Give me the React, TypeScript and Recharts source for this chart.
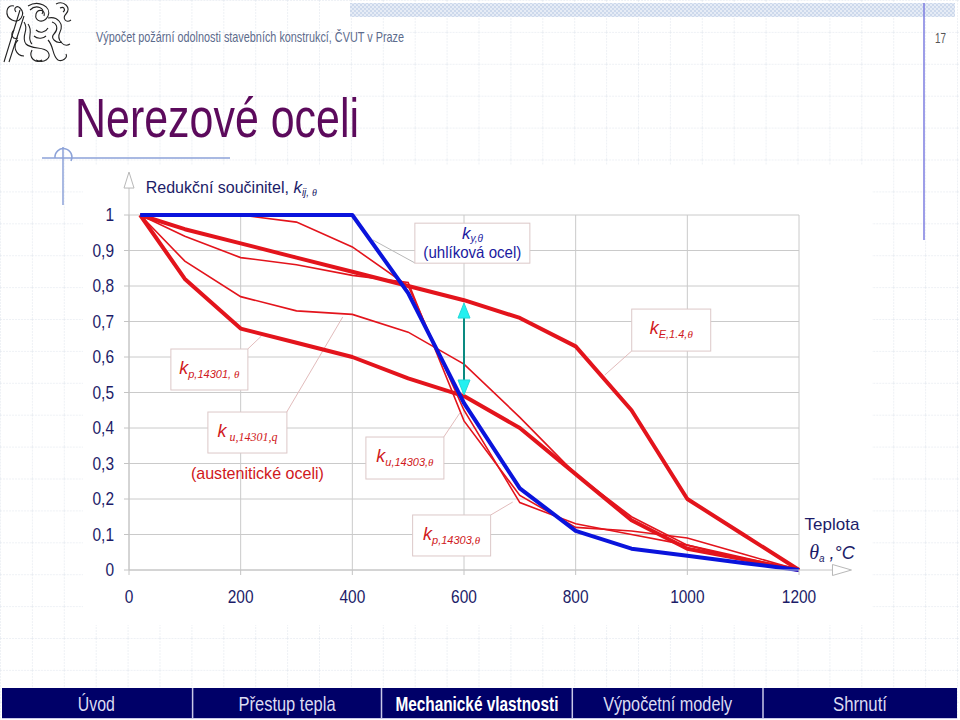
import React from 'react'
import {
  LineChart,
  Line,
  XAxis,
  YAxis,
  CartesianGrid,
  ReferenceLine,
  ReferenceDot,
} from 'recharts'

// temperatures (°C) and reduction factors
const temps = [20, 100, 200, 300, 400, 500, 600, 700, 800, 900, 1000, 1100, 1200]
const kyCarbon = [1, 1, 1, 1, 1, 0.78, 0.47, 0.23, 0.11, 0.06, 0.04, 0.02, 0]
const kE = [1, 0.96, 0.92, 0.88, 0.84, 0.8, 0.76, 0.71, 0.63, 0.45, 0.2, 0.1, 0]
const kp14301 = [1, 0.82, 0.68, 0.64, 0.6, 0.54, 0.49, 0.4, 0.27, 0.14, 0.06, 0.03, 0]
const ku14301 = [1, 0.87, 0.77, 0.73, 0.72, 0.67, 0.58, 0.43, 0.27, 0.15, 0.07, 0.03, 0]
const kp14303 = [1, 1, 1, 0.98, 0.91, 0.8, 0.45, 0.19, 0.13, 0.1, 0.07, 0.035, 0]
const ku14303 = [1, 0.94, 0.88, 0.86, 0.83, 0.81, 0.42, 0.21, 0.12, 0.11, 0.09, 0.045, 0]

const xTicks = [0, 200, 400, 600, 800, 1000, 1200]
const yTicks = [0, 0.1, 0.2, 0.3, 0.4, 0.5, 0.6, 0.7, 0.8, 0.9, 1]

const navItems = ['Úvod', 'Přestup tepla', 'Mechanické vlastnosti', 'Výpočetní modely', 'Shrnutí']

const rows = temps.map((t, i) => ({
  t,
  kyCarbon: kyCarbon[i],
  kE: kE[i],
  kp14301: kp14301[i],
  ku14301: ku14301[i],
  kp14303: kp14303[i],
  ku14303: ku14303[i],
}))

const RED = '#e3141c'
const BLUE = '#0a14dc'
const NAVY = '#1c1c68'
const FONT = 'Liberation Sans, Arial, sans-serif'
const SERIF = 'Liberation Serif, Times New Roman, serif'

const fmtY = (v: number) => (v === 0 ? '0' : v === 1 ? '1' : v.toFixed(1).replace('.', ','))

// slide text is slightly condensed, so ticks are drawn a bit narrower than tall
const XTick = (p: any) => (
  <text
    transform={`translate(${p.x},${p.y + 13}) scale(0.86,1)`}
    textAnchor="middle"
    fontFamily={FONT}
    fontSize={18}
    fill={NAVY}
  >
    {p.payload.value}
  </text>
)

const YTick = (p: any) => (
  <text
    transform={`translate(${p.x},${p.y + 6}) scale(0.86,1)`}
    textAnchor="end"
    fontFamily={FONT}
    fontSize={18}
    fill={NAVY}
  >
    {fmtY(p.payload.value)}
  </text>
)

// white box with label, anchored at its top-left corner
const box = (w: number, h: number, content: (x: number, y: number) => React.ReactNode) =>
  (p: any) => (
    <g>
      <rect x={p.cx} y={p.cy} width={w} height={h} fill="#fff" stroke="#dcc8c8" />
      {content(p.cx + w / 2, p.cy)}
    </g>
  )

const redLabel = (main: string, sub: string) => (x: number, y: number) => (
  <text x={x} y={y + 25} textAnchor="middle" fill="#d01820" fontStyle="italic" fontFamily={FONT}>
    <tspan fontSize={18}>{main}</tspan>
    <tspan fontSize={11} dy={4}>{sub}</tspan>
    <tspan fontSize={11} fontFamily={SERIF}>θ</tspan>
  </text>
)

const callouts = [
  { t: 512, v: 0.977, w: 115, h: 40, draw: (x: number, y: number) => (
      <g fontFamily={FONT} fill="#1a1aa0">
        <text x={x} y={y + 16} textAnchor="middle" fontStyle="italic">
          <tspan fontSize={17}>k</tspan>
          <tspan fontSize={10} dy={3}>y,θ</tspan>
        </text>
        <text x={x} y={y + 35} textAnchor="middle" fontSize={16.5} textLength={98} lengthAdjust="spacingAndGlyphs">(uhlíková ocel)</text>
      </g>
    ) },
  { t: 75, v: 0.6225, w: 77, h: 41, draw: redLabel('k', 'p,14301, ') },
  { t: 141.3, v: 0.445, w: 79, h: 41, draw: (x: number, y: number) => (
      <text x={x} y={y + 25} textAnchor="middle" fill="#d01820" fontStyle="italic">
        <tspan fontSize={18} fontFamily={FONT}>k</tspan>
        <tspan fontSize={12} dy={4} fontFamily={SERIF}> u,14301,q</tspan>
      </text>
    ) },
  { t: 424.3, v: 0.3746, w: 78, h: 42, draw: redLabel('k', 'u,14303,') },
  { t: 508, v: 0.155, w: 78, h: 41, draw: redLabel('k', 'p,14303,') },
  { t: 900.4, v: 0.735, w: 79, h: 42, draw: redLabel('k', 'E,1.4,') },
]

const leaders = [
  { a: { x: 436.5, y: 0.93 }, b: { x: 512, y: 0.865 }, c: '#b8b8b8' },
  { a: { x: 212.7, y: 0.6225 }, b: { x: 237.2, y: 0.659 }, c: '#e2bcbc' },
  { a: { x: 282.5, y: 0.445 }, b: { x: 382.8, y: 0.7127 }, c: '#e2bcbc' },
  { a: { x: 563.7, y: 0.3746 }, b: { x: 592.4, y: 0.442 }, c: '#e2bcbc' },
  { a: { x: 647.9, y: 0.155 }, b: { x: 687.3, y: 0.1915 }, c: '#e2bcbc' },
  { a: { x: 900.4, y: 0.617 }, b: { x: 852, y: 0.549 }, c: '#e2bcbc' },
]

const triangle = (dir: 'up' | 'down' | 'right', fill: string, stroke: string, len: number, half: number) =>
  (p: any) => {
    const { cx, cy } = p
    let pts = ''
    if (dir === 'up') pts = `${cx},${cy} ${cx - half},${cy + len} ${cx + half},${cy + len}`
    if (dir === 'down') pts = `${cx},${cy} ${cx - half},${cy - len} ${cx + half},${cy - len}`
    if (dir === 'right') pts = `${cx},${cy} ${cx - len},${cy - half} ${cx - len},${cy + half}`
    return <polygon points={pts} fill={fill} stroke={stroke} strokeWidth={1} />
  }

const Background = () => {
  const cuts = [0, 192.6, 381.5, 572.3, 763, 957]
  const widths = [37, 97, 163, 129, 54]
  return (
    <svg width={960} height={720} style={{ position: 'absolute', left: 0, top: 0 }}>
      <defs>
        <pattern id="bg" width={31.9} height={31.9} patternUnits="userSpaceOnUse">
          <path d="M0 0 H31.9 M0 0 V31.9" stroke="#dde3ec" strokeWidth={1} strokeDasharray="2 1" fill="none" />
        </pattern>
        <pattern id="chk" width={4} height={4} patternUnits="userSpaceOnUse">
          <rect width={4} height={4} fill="#e6ecf6" />
          <rect width={2} height={2} fill="#cdd9ec" />
          <rect x={2} y={2} width={2} height={2} fill="#cdd9ec" />
        </pattern>
      </defs>
      <rect width={960} height={720} fill="#fff" />
      <rect width={960} height={720} fill="url(#bg)" />
      <rect x={350} y={3} width={605} height={14} fill="url(#chk)" />
      <line x1={924} y1={3} x2={924} y2={240} stroke="#7c7ce0" strokeWidth={1.5} />
      <rect x={83} y={165} width={789} height={460} fill="#fff" />

      {/* logo sketch */}
      <g stroke="#222" strokeWidth={1.1} fill="none">
        <path d="M4 62 L20 10 M9 62 L24 16" />
        <path d="M14 6 C6 4 4 16 12 20 C20 24 26 14 20 8 C17 5 13 8 16 12" />
        <path d="M28 6 C38 0 52 6 48 16 C44 24 34 22 36 14 C38 8 46 10 44 16" />
        <path d="M30 10 C36 4 46 8 42 14" />
        <path d="M24 22 C30 30 20 36 26 44 C32 50 44 46 48 52 C52 58 44 64 36 60" />
        <path d="M28 24 C34 32 26 38 32 44" />
        <path d="M48 18 C58 16 64 24 60 32 C56 40 64 48 70 44" />
        <path d="M52 22 C58 24 58 30 54 34 C50 38 56 44 62 42" />
        <path d="M56 4 C64 0 72 8 66 14 C62 18 66 24 71 20" />
        <path d="M60 8 C64 6 66 10 63 12" />
        <path d="M18 40 C12 46 16 56 24 56 M32 50 C28 58 36 64 42 60" />
        <path d="M48 40 C54 46 52 56 58 60 C62 62 68 58 66 54" />
        <path d="M36 30 C40 34 46 32 48 28 M34 36 C38 40 44 38 46 36" />
        <path d="M14 30 C10 34 12 40 18 38" />
      </g>

      <text x={96} y={42} fontFamily={FONT} fontSize={15} fill="#5c6b8c" textLength={308} lengthAdjust="spacingAndGlyphs">
        Výpočet požární odolnosti stavebních konstrukcí, ČVUT v Praze
      </text>
      <text x={935} y={43} fontFamily={FONT} fontSize={15} fill="#555" textLength={11} lengthAdjust="spacingAndGlyphs">17</text>
      <text x={75} y={136.5} fontFamily={FONT} fontSize={56} fill="#5c0a5c" textLength={284} lengthAdjust="spacingAndGlyphs">
        Nerezové oceli
      </text>

      <g stroke="#8ca2d8" strokeWidth={1.5} fill="none">
        <line x1={42} y1={158} x2={230} y2={158} />
        <line x1={63} y1={147} x2={63} y2={205} />
        <path d="M55 158 A 8.5 8.5 0 1 1 71 161" />
      </g>

      {/* navigation bar */}
      <rect x={2} y={688} width={955} height={30} fill="#000068" />
      {cuts.slice(1, -1).map((c) => (
        <line key={c} x1={c} y1={688} x2={c} y2={718} stroke="#c8c8e8" strokeWidth={1.5} />
      ))}
      <line x1={2} y1={718.5} x2={957} y2={718.5} stroke="#c8c8e8" />
      {navItems.map((n, i) => {
        const active = i === 2
        return (
          <text
            key={n}
            x={(cuts[i] + cuts[i + 1]) / 2 - widths[i] / 2}
            y={711}
            fontFamily={FONT}
            fontSize={21}
            fontWeight={active ? 700 : 400}
            fill={active ? '#ffffff' : '#dcdcf2'}
            textLength={widths[i]}
            lengthAdjust="spacingAndGlyphs"
          >
            {n}
          </text>
        )
      })}
    </svg>
  )
}

export default function App() {
  return (
    <div style={{ position: 'absolute', left: 0, top: 0, width: 960, height: 720, overflow: 'hidden' }}>
      <Background />
      <div style={{ position: 'absolute', left: 0, top: 0 }}>
        <LineChart
          width={960}
          height={720}
          data={rows}
          margin={{ top: 215, right: 161, bottom: 120, left: 69 }}
        >
          <CartesianGrid stroke="#cacaca" strokeWidth={1} />
          <XAxis
            type="number"
            dataKey="t"
            domain={[0, 1200]}
            ticks={xTicks}
            height={30}
            axisLine={{ stroke: '#c4c4c4' }}
            tickLine={{ stroke: '#c4c4c4' }}
            tickSize={5}
            tickMargin={15}
            tick={<XTick />}
          />
          <YAxis
            type="number"
            domain={[0, 1]}
            ticks={yTicks}
            width={60}
            axisLine={{ stroke: '#c4c4c4' }}
            tickLine={{ stroke: '#c4c4c4' }}
            tickSize={5}
            tickMargin={10}
            tick={<YTick />}
          />

          {/* axis extensions with open arrow heads */}
          <ReferenceLine ifOverflow="visible" segment={[{ x: 0, y: 1 }, { x: 0, y: 1.076 }]} stroke="#c4c4c4" />
          <ReferenceDot ifOverflow="visible" x={0} y={1.121} shape={triangle('up', '#fff', '#b8b8b8', 16, 5)} />
          <ReferenceLine ifOverflow="visible" segment={[{ x: 1200, y: 0 }, { x: 1260, y: 0 }]} stroke="#c4c4c4" />
          <ReferenceDot ifOverflow="visible" x={1294} y={0} shape={triangle('right', '#fff', '#b8b8b8', 19, 5.5)} />

          {leaders.map((l, i) => (
            <ReferenceLine key={i} ifOverflow="visible" segment={[l.a, l.b]} stroke={l.c} strokeWidth={1} />
          ))}

          <Line type="linear" dataKey="ku14303" stroke={RED} strokeWidth={1.6} dot={false} isAnimationActive={false} />
          <Line type="linear" dataKey="kp14303" stroke={RED} strokeWidth={1.6} dot={false} isAnimationActive={false} />
          <Line type="linear" dataKey="ku14301" stroke={RED} strokeWidth={1.6} dot={false} isAnimationActive={false} />
          <Line type="linear" dataKey="kp14301" stroke={RED} strokeWidth={4} dot={false} isAnimationActive={false} strokeLinejoin="round" />
          <Line type="linear" dataKey="kE" stroke={RED} strokeWidth={4} dot={false} isAnimationActive={false} strokeLinejoin="round" />
          <Line type="linear" dataKey="kyCarbon" stroke={BLUE} strokeWidth={4} dot={false} isAnimationActive={false} strokeLinejoin="round" />

          {/* difference arrow at 600 °C */}
          <ReferenceLine ifOverflow="visible" segment={[{ x: 600, y: 0.71 }, { x: 600, y: 0.535 }]} stroke="#0a8a80" strokeWidth={2} />
          <ReferenceDot ifOverflow="visible" x={600} y={0.752} shape={triangle('up', '#22f0f0', '#22d8d8', 15, 6)} />
          <ReferenceDot ifOverflow="visible" x={600} y={0.493} shape={triangle('down', '#22f0f0', '#22d8d8', 15, 6)} />

          {callouts.map((c, i) => (
            <ReferenceDot key={i} ifOverflow="visible" x={c.t} y={c.v} shape={box(c.w, c.h, c.draw)} />
          ))}

          {/* axis titles and free text */}
          <ReferenceDot ifOverflow="visible" x={30} y={1.062} shape={(p: any) => (
            <text x={p.cx} y={p.cy} fontFamily={FONT} fill={NAVY}>
              <tspan fontSize={16}>Redukční součinitel,  </tspan>
              <tspan fontSize={17} fontStyle="italic">k</tspan>
              <tspan fontSize={10} fontStyle="italic" dy={3}>ij, </tspan>
              <tspan fontSize={10} fontStyle="italic" fontFamily={SERIF}>θ</tspan>
            </text>
          )} />
          <ReferenceDot ifOverflow="visible" x={230} y={0.257} shape={(p: any) => (
            <text x={p.cx} y={p.cy} textAnchor="middle" fontFamily={FONT} fontSize={17} fill="#d01820" textLength={133} lengthAdjust="spacingAndGlyphs">
              (austenitické oceli)
            </text>
          )} />
          <ReferenceDot ifOverflow="visible" x={1259} y={0.1127} shape={(p: any) => (
            <text x={p.cx} y={p.cy} textAnchor="middle" fontFamily={FONT} fontSize={17} fill={NAVY}>Teplota</text>
          )} />
          <ReferenceDot ifOverflow="visible" x={1259} y={0.031} shape={(p: any) => (
            <text x={p.cx} y={p.cy} textAnchor="middle" fill={NAVY} fontStyle="italic">
              <tspan fontFamily={SERIF} fontSize={20}>θ</tspan>
              <tspan fontFamily={FONT} fontSize={10} dy={3}>a</tspan>
              <tspan fontFamily={FONT} fontSize={18} dy={-3}> ,°C</tspan>
            </text>
          )} />
        </LineChart>
      </div>
    </div>
  )
}
